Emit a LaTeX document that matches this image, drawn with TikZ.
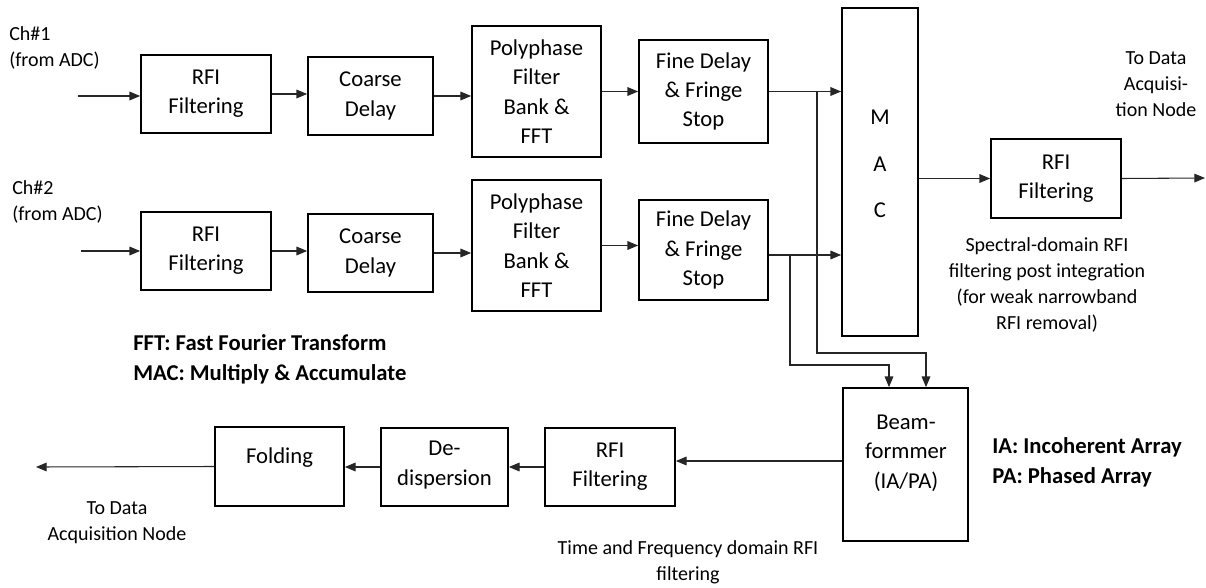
\documentclass[tikz,border=0pt]{standalone}
\usepackage{fontspec}
\setmainfont{Carlito}
\usetikzlibrary{arrows.meta,calc}
\tikzset{
  blk/.style={draw=black, line width=1.3pt, rectangle, inner sep=0pt, align=center,
    font=\fontsize{17}{22}\selectfont},
  sz/.style 2 args={minimum width={#1*0.75pt}, minimum height={#2*0.75pt}},
  wire/.style={draw=black!85, line width=0.8pt},
  arr/.style={wire, -{Triangle[length=8pt,width=6.5pt]}},
  note/.style={inner sep=0pt, align=center, font=\fontsize{15}{19.5}\selectfont},
  key/.style={inner sep=0pt, align=left, font=\fontsize{17}{22.5}\selectfont\bfseries},
}
\begin{document}
\begin{tikzpicture}[x=0.75pt, y=-0.75pt]
\useasboundingbox (0,0) rectangle (1206,588);

% channel 1 chain
\node[blk, sz={130}{78}] (rfiA) at (206,94) {RFI\\Filtering};
\node[blk, sz={125}{78}] (cdA) at (370.5,96) {Coarse\\Delay};
\node[blk, sz={129}{131}] (pfbA) at (536.5,91.5) {Polyphase\\Filter\\Bank \&\\FFT};
\node[blk, sz={129}{103}] (fdA) at (703.5,91.5) {Fine Delay\\\& Fringe\\Stop};

% channel 2 chain
\node[blk, sz={130}{78}] (rfiB) at (206,251) {RFI\\Filtering};
\node[blk, sz={125}{78}] (cdB) at (370.5,253) {Coarse\\Delay};
\node[blk, sz={129}{131}] (pfbB) at (536.5,245.5) {Polyphase\\Filter\\Bank \&\\FFT};
\node[blk, sz={129}{100}] (fdB) at (703.5,250) {Fine Delay\\\& Fringe\\Stop};

% correlator branch
\node[blk, sz={76}{328}] (mac) at (880,172) {};
\node[blk, inner sep=0pt, draw=none, font=\fontsize{17}{35}\selectfont] (macT) at (880,164) {M\\A\\C};
\node[blk, sz={130}{79}] (rfiC) at (1056,178.5) {RFI\\Filtering};

% beamformer branch
\node[blk, sz={125}{153}] (bf) at (905.5,464.5) {};
\node[blk, draw=none] (bfT) at (906,453) {Beam-\\formmer\\(IA/PA)};
\node[blk, sz={130}{78}] (rfiD) at (610,467) {RFI\\Filtering};
\node[blk, sz={127}{78}] (dd) at (444.5,467) {};
\node[blk, draw=none] (ddT) at (444.5,465) {De-\\dispersion};
\node[blk, sz={129}{79}] (fold) at (279.5,466.5) {};
\node[blk, draw=none] (foldT) at (279.5,458) {Folding};

% free ends and junctions
\coordinate (inA) at (78,96);
\coordinate (inB) at (81,251);
\coordinate (outR) at (1205,178);
\coordinate (outL) at (36,467);
\coordinate (jA) at (817,91);
\coordinate (kA) at (926,353);
\coordinate (jB) at (790,255);
\coordinate (kB) at (889,365);
\coordinate (fdBo) at ($(fdB.east)+(0,5)$);
\coordinate (bfo) at ($(bf.west)+(0,-3.5)$);

% channel 1 connectors
\draw[arr] (inA) -- (inA -| rfiA.west);
\draw[arr] (rfiA.east) -- (rfiA.east -| cdA.west);
\draw[arr] (cdA.east) -- (cdA.east -| pfbA.west);
\draw[arr] (pfbA.east) -- (pfbA.east -| fdA.west);
\draw[arr] (fdA.east) -- (fdA.east -| mac.west);

% channel 2 connectors
\draw[arr] (inB) -- (inB -| rfiB.west);
\draw[arr] (rfiB.east) -- (rfiB.east -| cdB.west);
\draw[arr] (cdB.east) -- (cdB.east -| pfbB.west);
\draw[arr] (pfbB.east) -- (pfbB.east -| fdB.west);
\draw[arr] (fdBo) -- (fdBo -| mac.west);

% taps to the beamformer
\draw[arr] (jA) |- (kA) -- (kA |- bf.north);
\draw[arr] (jB) |- (kB) -- (kB |- bf.north);

% correlator output
\draw[arr] (mac.east |- rfiC.west) -- (rfiC.west);
\draw[arr] (rfiC.east) -- (outR);

% beamformer output chain
\draw[arr] (bfo) -- (bfo -| rfiD.east);
\draw[arr] (rfiD.west) -- (rfiD.west -| dd.east);
\draw[arr] (dd.west) -- (dd.west -| fold.east);
\draw[arr] (fold.west) -- (outL);

% annotations
\node[note, align=left, anchor=west] (ch1) at (9,48) {Ch\#1\\(from ADC)};
\node[note, align=left, anchor=west] (ch2) at (12,201.5) {Ch\#2\\(from ADC)};
\node[note] (toR) at (1156,84) {To Data\\Acquisi-\\tion Node};
\node[note] (spec) at (1047,285) {Spectral-domain RFI\\filtering post integration\\(for weak narrowband\\RFI removal)};
\node[key, anchor=west] (abbr1) at (133,359) {FFT: Fast Fourier Transform\\MAC: Multiply \& Accumulate};
\node[key, anchor=west] (abbr2) at (992,462) {IA: Incoherent Array\\PA: Phased Array};
\node[note] (toL) at (117,523) {To Data\\Acquisition Node};
\node[note] (tf) at (688,562) {Time and Frequency domain RFI\\filtering};
\end{tikzpicture}
\end{document}
